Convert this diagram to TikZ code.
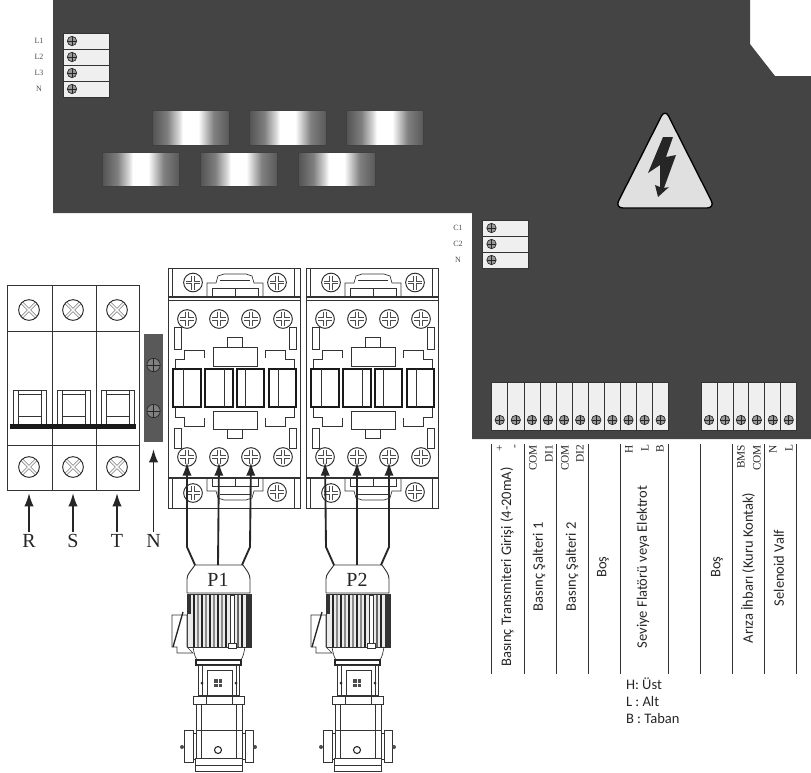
\documentclass[tikz,border=0pt]{standalone}
\usepackage{fontspec}
\setmainfont{Liberation Serif}
\newfontfamily\lblfont{Carlito}
\usetikzlibrary{arrows.meta}
\definecolor{panelgray}{HTML}{444444}
\definecolor{cellgray}{HTML}{EFEFEF}
\pgfdeclarehorizontalshading{magnetshade}{100bp}{color(0bp)=(black!68); color(25bp)=(black!68); color(35bp)=(black!50); color(42.5bp)=(black!15); color(45bp)=(white); color(55bp)=(white); color(58bp)=(black!15); color(65bp)=(black!50); color(75bp)=(black!65); color(100bp)=(black!65)}

\begin{document}
\begin{tikzpicture}[x=0.75pt, y=-0.75pt,
    every node/.style = {inner sep=0pt, outer sep=0pt},
    ln/.style = {draw=black!80, line width=0.5pt},
    tscrew/.style = {circle, draw=black!85, fill=black!40, line width=0.5pt, minimum size=7pt,
      path picture={\draw[black!85, line width=0.4pt] (path picture bounding box.north) -- (path picture bounding box.south)
        (path picture bounding box.west) -- (path picture bounding box.east);}},
    xscrew/.style = {circle, draw=black!85, fill=white, line width=0.7pt, minimum size=15.5pt,
      path picture={\draw[black!70, line width=0.4pt, double=white, double distance=1.1pt]
        (path picture bounding box.north west) -- (path picture bounding box.south east)
        (path picture bounding box.north east) -- (path picture bounding box.south west);}},
    pscrew/.style = {circle, draw=black!85, fill=white, line width=0.7pt, minimum size=14pt},
    crossln/.style = {black!70, line width=0.5pt, double=white, double distance=1.3pt},
    cell/.style = {draw=black!80, fill=cellgray, line width=0.6pt},
    magnet/.style = {shading=magnetshade, draw=black!75, line width=0.4pt},
    tinylbl/.style = {font=\fontsize{6}{7}\selectfont, text=black!70},
    toplbl/.style = {font=\fontsize{8.5}{9}\selectfont, rotate=90, anchor=east, text=black!85},
    sidelbl/.style = {font=\lblfont\fontsize{10.9}{12}\selectfont, rotate=90, text=black!85},
    keylbl/.style = {font=\lblfont\fontsize{10.9}{12}\selectfont, anchor=west, text=black!85},
    phaselbl/.style = {font=\fontsize{15}{16}\selectfont, text=black!85},
    wire/.style = {black!85, line width=1.4pt, -{Latex[length=10pt,width=7pt]}},
    contactor/.pic = {
      \draw[ln, line width=0.6pt] (0,0) rectangle (132,240);
      \draw[ln, line width=0.9pt] (0,29) -- (132,29) (0,210) -- (132,210);
      \draw[ln] (0,32) -- (132,32) (4,0) -- (4,29) (126,0) -- (126,29) (4,210) -- (4,240) (126,210) -- (126,240);
      \draw[ln] (39,28) -- (39,15) -- (48,15) -- (50,8) -- (56,6) -- (78,6) -- (84,8) -- (86,15) -- (95,15) -- (95,28);
      \draw[ln] (44,28) -- (44,20) -- (90,20) -- (90,28) (67,20) -- (67,29) (52,12) -- (82,12);
      \draw[ln] (39,211) -- (39,223) -- (48,223) -- (50,230) -- (56,232) -- (78,232) -- (84,230) -- (86,223) -- (95,223) -- (95,211);
      \draw[ln] (44,211) -- (44,218) -- (90,218) -- (90,211) (67,210) -- (67,218) (52,226) -- (82,226);
      \foreach \x in {6,121} {
        \draw[ln] (\x,59) rectangle ++(7,22);
        \draw[ln] (\x,160) rectangle ++(7,20);
      }
      \draw[ln] (45,79) rectangle (89,98);
      \draw[ln] (59,79) -- (59,69) -- (74,69) -- (74,79);
      \draw[ln] (45,143) rectangle (89,161);
      \draw[ln] (59,161) -- (59,170) -- (74,170) -- (74,161);
      \draw[ln] (7,101) -- (7,91) -- (16,91) -- (16,82) -- (36,82) -- (36,90);
      \draw[ln] (126,101) -- (126,91) -- (117,91) -- (117,82) -- (97,82) -- (97,90);
      \draw[ln] (7,139) -- (7,149) -- (16,149) -- (16,158) -- (36,158) -- (36,150);
      \draw[ln] (126,139) -- (126,149) -- (117,149) -- (117,158) -- (97,158) -- (97,150);
      \draw[black!90, line width=1.1pt] (5,101) rectangle (33,139) (37,101) rectangle (65,139)
        (69,101) rectangle (96,139) (101,101) rectangle (128,139);
      \draw[ln] (15,101) -- (15,139) (56,101) -- (56,139) (77,101) -- (77,139) (110,101) -- (110,139);
      \foreach \n/\x/\y in {c1/25/14.5,c2/109/14.5,c3/25/225,c4/109/224,t1/19/51,t2/51/51,t3/83/51,t4/115/51,s1/19/189,s2/51/189,s3/83/189,s4/115/189} {
        \node[pscrew] (-\n) at (\x,\y) {};
        \draw[crossln] (\x-7,\y) -- (\x+7,\y) (\x,\y-7) -- (\x,\y+7);
      }
    },
    pumpset/.pic = {
      \coordinate (-w1) at (-23,0);
      \coordinate (-w2) at (0,0);
      \coordinate (-w3) at (24,0);
      \draw[ln, line width=0.7pt] (-23,0) -- (25,0) .. controls (29,6) and (32,9) .. (32,14) -- (32,28) -- (-31,28) -- (-31,14) .. controls (-31,9) and (-27,6) .. (-23,0);
      \fill[black!8] (-31,29) rectangle (33,82);
      \fill[black!80] (-31,29) rectangle (-27,49);
      \fill[black!80] (28,29) rectangle (33,82);
      \foreach \x/\g in {-24/85,-20/45,-16/85,-12/45,-8/85,-4/45,0/85,4/45,8/85,20/60,24/85} {
        \draw[black!\g, line width=0.9pt] (\x,29) -- (\x,82);
      }
      \draw[ln, line width=0.7pt] (-31,29) rectangle (33,82);
      \draw[ln, fill=white] (12,30) rectangle (16,78);
      \draw[ln, fill=white] (10,78) rectangle (18,83);
      \draw[ln, fill=white] (-46,50) -- (-31,50) -- (-31,82) -- (-25,88) -- (-41,88) -- (-41,82) -- (-46,82) -- cycle;
      \draw[black!85, line width=1pt] (-35,47) -- (-45,82);
      \draw[ln] (-25,82) .. controls (-24,88) and (-23,92) .. (-21,95) -- (23,95) .. controls (25,92) and (26,88) .. (27,82);
      \draw[black!85, line width=0.8pt] (-22,95) rectangle (23,100);
      \draw[ln] (-20,100) rectangle (21,130);
      \draw[ln] (-11,105) rectangle (14,130) (-16,100) -- (-16,130) (18,100) -- (18,130);
      \fill[black!85] (-16,118) circle [radius=1.5] (18,118) circle [radius=1.5];
      \fill[black!70] (-4,114) rectangle (4,122);
      \draw[white, line width=0.5pt] (0,113) -- (0,123) (-5,118) -- (5,118);
      \draw[ln, line width=0.7pt, fill=white] (-25,131) rectangle (26,139);
      \draw[ln] (-12,131) -- (-12,139) (14,131) -- (14,139);
      \draw[ln, line width=0.6pt] (-22,139) rectangle (-17,193) (18,139) rectangle (24,193);
      \draw[ln, line width=0.6pt] (-22,165) -- (24,165);
      \draw[ln, fill=white] (-34,165) rectangle (-25,197) (27,165) rectangle (35,197);
      \draw[ln] (-25,168) -- (-22,168) (-25,194) -- (-22,194) (24,168) -- (27,168) (24,194) -- (27,194);
      \fill[black!70] (-36,182) circle [radius=2] (37,182) circle [radius=2];
      \draw[black!85, line width=0.8pt] (0,185) circle [radius=3.5];
      \draw[ln, line width=0.7pt, fill=white] (-23,193) rectangle (24,206.5);
      \draw[ln] (-23,200) -- (24,200);
    }]
    \useasboundingbox (0,0) rectangle (811,772);
    \fill[panelgray] (53,0) -- (750,0) -- (750,44) -- (775,76) -- (811,76) -- (811,439) -- (472,439) -- (472,213) -- (53,213) -- cycle;
    \foreach \i/\y/\t in {1/41/L1,2/57/L2,3/73/L3,4/89/N} {
      \draw[cell] (63,\y-8) rectangle (109,\y+8);
      \node[tscrew] (a\i) at (72,\y) {};
      \node[tinylbl] (la\i) at (39,\y) {\t};
    }
    \foreach \i/\y/\t in {1/228/C1,2/244/C2,3/260/N} {
      \draw[cell] (482,\y-8) rectangle (528,\y+8);
      \node[tscrew] (c\i) at (491.5,\y) {};
      \node[tinylbl] (lc\i) at (458,\y) {\t};
    }
    \foreach \x in {152,249,346} {
      \draw[magnet] (\x,110) rectangle ++(77,35);
    }
    \foreach \x in {102,200,298} {
      \draw[magnet] (\x,152) rectangle ++(77,34);
    }
    \draw[black, line width=1pt, fill=black!12, rounded corners=6pt] (665,109) -- (715,208) -- (615,208) -- cycle;
    \fill[black!85] (663,137) -- (673,137) -- (666,157) -- (676,155) -- (664,188) -- (669,187) -- (658,197) -- (655,185) -- (660,187) -- (660,165) -- (648,173) -- cycle;
    \foreach \i in {0,...,10} {
      \draw[cell] (491.7+16.1*\i,382) rectangle ++(16.1,48);
      \node[tscrew] (b\i) at (499.7+16.1*\i,420) {};
    }
    \foreach \i in {0,...,5} {
      \draw[cell] (701+15.95*\i,382) rectangle ++(15.95,48);
      \node[tscrew] (d\i) at (709+15.95*\i,420) {};
    }
    \foreach \x in {491.7,524,556,588,620,668.7,700.7,732.7,764.7,796.7} {
      \draw[black!80, line width=0.7pt] (\x,444) -- (\x,674);
    }
    \foreach \n/\x/\t in {p/500/+,m/516/-,com1/533/COM,di1/549/DI1,com2/565/COM,di2/580/DI2,h/629/H,l/645/L,b/660/B,bms/741/BMS,com3/757/COM,n/773/N,lb/789/L} {
      \node[toplbl] (t\n) at (\x,445) {\t};
    }
    \node[sidelbl] (trans) at (507,567) {Basınç Transmiteri Girişi (4-20mA)};
    \node[sidelbl] (sw1) at (539,567) {Basınç Şalteri 1};
    \node[sidelbl] (sw2) at (572,567) {Basınç Şalteri 2};
    \node[sidelbl] (bos1) at (603,567) {Boş};
    \node[sidelbl] (level) at (643,567) {Seviye Flatörü veya Elektrot};
    \node[sidelbl] (bos2) at (717,567) {Boş};
    \node[sidelbl] (alarm) at (748,568) {Arıza İhbarı (Kuru Kontak)};
    \node[sidelbl] (valve) at (779,568) {Selenoid Valf};
    \node[keylbl] (keyh) at (626,684) {H: Üst};
    \node[keylbl] (keyl) at (626,702) {L : Alt};
    \node[keylbl] (keyb) at (626,719) {B : Taban};
    \draw[ln, line width=0.7pt] (7,285) rectangle (139,490);
    \draw[ln] (52,285) -- (52,490) (96,285) -- (96,490) (7,331) -- (139,331) (7,445) -- (139,445);
    \foreach \x in {13,57,101} {
      \draw[ln] (\x,390) rectangle ++(33,35);
      \draw[ln] (\x+5,390) -- (\x+5,425) (\x+28,390) -- (\x+28,425) (\x+5,394) -- (\x+28,394) (\x+5,416) -- (\x+28,416);
    }
    \fill[black!90] (10,424) rectangle (136,429);
    \foreach \i/\x in {r/29,s/73,t/117} {
      \node[xscrew] (\i1) at (\x,310) {};
      \node[xscrew] (\i2) at (\x,467) {};
    }
    \fill[black!65] (144,334) rectangle (163,442);
    \node[tscrew, fill=black!50, minimum size=10pt] (n1) at (153.5,365) {};
    \node[tscrew, fill=black!50, minimum size=10pt] (n2) at (153.5,411) {};
    \node[phaselbl] (lr) at (29,541) {R};
    \node[phaselbl] (ls) at (73,541) {S};
    \node[phaselbl] (lt) at (117,541) {T};
    \node[phaselbl] (ln) at (153.5,541) {N};
    \draw[wire] (lr.north) ++(0,-2) -- (r2 |- 0,493);
    \draw[wire] (ls.north) ++(0,-2) -- (s2 |- 0,493);
    \draw[wire] (lt.north) ++(0,-2) -- (t2 |- 0,493);
    \draw[wire] (ln.north) ++(0,-2) -- (n2 |- 0,449);
    \pic (k1) at (168,268) {contactor};
    \pic (k2) at (306,268) {contactor};
    \pic (p1) at (218,565) {pumpset};
    \pic (p2) at (357,565) {pumpset};
    \node[phaselbl] (p1name) at (218,580) {P1};
    \node[phaselbl] (p2name) at (357,580) {P2};
    \foreach \k/\p in {k1/p1,k2/p2} {
      \draw[wire, shorten >=-3pt] (\p-w1) -- ++(-8,-18) -- (\k-s1);
      \draw[wire, shorten >=-3pt] (\p-w2) -- (\k-s2);
      \draw[wire, shorten >=-3pt] (\p-w3) -- ++(8,-18) -- (\k-s3);
    }
  \end{tikzpicture}
\end{document}
